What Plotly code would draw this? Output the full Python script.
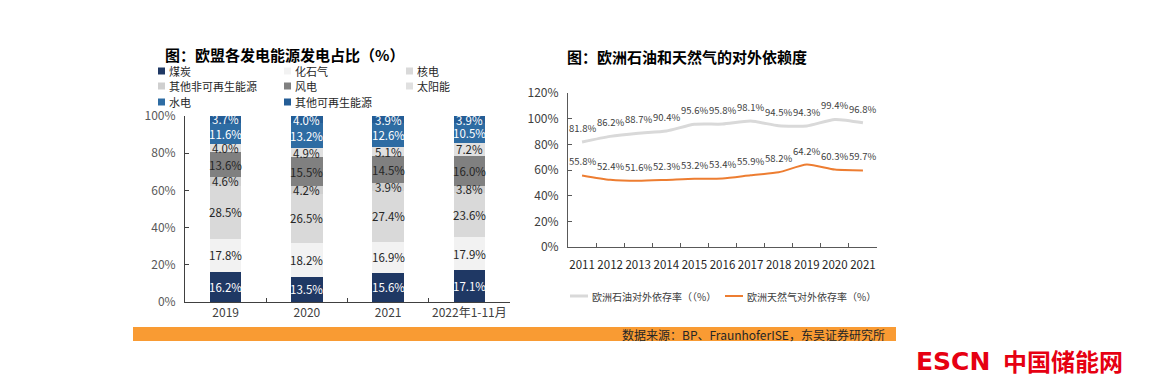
import plotly.graph_objects as go

# ---------------- data ----------------
years_bar = ["2019", "2020", "2021", "2022年1-11月"]
coal = [16.2, 13.5, 15.6, 17.1]
fossil_gas = [17.8, 18.2, 16.9, 17.9]
nuclear = [28.5, 26.5, 27.4, 23.6]
other_nonrenew = [4.6, 4.2, 3.9, 3.8]
wind = [13.6, 15.5, 14.5, 16.0]
solar = [4.0, 4.9, 5.1, 7.2]
hydro = [11.6, 13.2, 12.6, 10.5]
other_renew = [3.7, 4.0, 3.9, 3.9]

series_names = ["煤炭", "化石气", "核电", "其他非可再生能源", "风电", "太阳能", "水电", "其他可再生能源"]
series_values = [coal, fossil_gas, nuclear, other_nonrenew, wind, solar, hydro, other_renew]

years_line = ["2011", "2012", "2013", "2014", "2015", "2016", "2017", "2018", "2019", "2020", "2021"]
oil_dep = [81.8, 86.2, 88.7, 90.4, 95.6, 95.8, 98.1, 94.5, 94.3, 99.4, 96.8]
gas_dep = [55.8, 52.4, 51.6, 52.3, 53.2, 53.4, 55.9, 58.2, 64.2, 60.3, 59.7]

pct_ticks = [0, 20, 40, 60, 80, 100, 120]

# ---------------- style ----------------
W, H = 1150, 386
OFF = 8  # page body margin offsets the figure by 8px
FONT = "Noto Sans CJK SC"
bar_colors = ["#1f3864", "#f2f2f2", "#d9d9d9", "#cfcfcf", "#808080", "#e0e0e0", "#2e6ca3", "#245d96"]
label_colors = ["#ffffff", "#262626", "#262626", "#262626", "#262626", "#262626", "#ffffff", "#ffffff"]


def px(x):
    return (x - OFF) / W


def py(y):
    return 1 - (y - OFF) / H


fig = go.Figure()

# stacked bars
for name, vals, col in zip(series_names, series_values, bar_colors):
    fig.add_trace(go.Bar(
        x=years_bar, y=vals, name=name, marker=dict(color=col, line=dict(width=0)),
        width=0.39, xaxis="x", yaxis="y", showlegend=False, hoverinfo="skip",
    ))

annotations = []
# bar labels at segment midpoints (x given as category index)
for i, cat in enumerate(years_bar):
    base = 0.0
    for vals, tcol in zip(series_values, label_colors):
        v = vals[i]
        annotations.append(dict(
            x=i, y=base + v / 2, xref="x", yref="y", text=f"{v:.1f}%",
            showarrow=False, font=dict(family=FONT, size=11.5, color=tcol),
        ))
        base += v

# lines
fig.add_trace(go.Scatter(
    x=years_line, y=oil_dep, mode="lines", line=dict(color="#d9d9d9", width=3, shape="spline", smoothing=0.6),
    xaxis="x2", yaxis="y2", showlegend=False, hoverinfo="skip",
))
fig.add_trace(go.Scatter(
    x=years_line, y=gas_dep, mode="lines", line=dict(color="#ed7d31", width=2, shape="spline", smoothing=0.6),
    xaxis="x2", yaxis="y2", showlegend=False, hoverinfo="skip",
))
for ys in (oil_dep, gas_dep):
    for i, yv in enumerate(ys):
        annotations.append(dict(
            x=i, y=yv, xref="x2", yref="y2", text=f"{yv:.1f}%", showarrow=False, yshift=14,
            font=dict(family=FONT, size=9.5, color="#404040"),
        ))

# titles
annotations.append(dict(x=px(163), y=py(55), xref="paper", yref="paper", xanchor="left", yanchor="middle",
                        text="<b>图：欧盟各发电能源发电占比（%）</b>", showarrow=False,
                        font=dict(family=FONT, size=15, color="#000000")))
annotations.append(dict(x=px(565), y=py(56), xref="paper", yref="paper", xanchor="left", yanchor="middle",
                        text="<b>图：欧洲石油和天然气的对外依赖度</b>", showarrow=False,
                        font=dict(family=FONT, size=15, color="#000000")))

shapes = []
# left legend (3 columns)
col_x = [158, 284, 406]
row_y = [71, 86, 102]
for k, (name, col) in enumerate(zip(series_names, bar_colors)):
    r, c = divmod(k, 3)
    x0, yc = col_x[c], row_y[r]
    shapes.append(dict(type="rect", xref="paper", yref="paper", x0=px(x0), x1=px(x0 + 7),
                       y0=py(yc + 3.5), y1=py(yc - 3.5), fillcolor=col, line=dict(width=0)))
    annotations.append(dict(x=px(x0 + 9), y=py(yc), xref="paper", yref="paper", xanchor="left", yanchor="middle",
                            text=name, showarrow=False, font=dict(family=FONT, size=11, color="#262626")))

# right legend
shapes.append(dict(type="line", xref="paper", yref="paper", x0=px(570), x1=px(588), y0=py(296), y1=py(296),
                   line=dict(color="#d9d9d9", width=3)))
annotations.append(dict(x=px(590), y=py(296), xref="paper", yref="paper", xanchor="left", yanchor="middle",
                        text="欧洲石油对外依存率（（%）", showarrow=False, font=dict(family=FONT, size=10, color="#404040")))
shapes.append(dict(type="line", xref="paper", yref="paper", x0=px(725), x1=px(743), y0=py(296), y1=py(296),
                   line=dict(color="#ed7d31", width=2)))
annotations.append(dict(x=px(745), y=py(296), xref="paper", yref="paper", xanchor="left", yanchor="middle",
                        text="欧洲天然气对外依存率（%）", showarrow=False, font=dict(family=FONT, size=10, color="#404040")))

# source band
shapes.append(dict(type="rect", xref="paper", yref="paper", x0=px(133), x1=px(896), y0=py(341), y1=py(327),
                   fillcolor="#f99b33", line=dict(width=0), layer="below"))
annotations.append(dict(x=px(887), y=py(334), xref="paper", yref="paper", xanchor="right", yanchor="middle",
                        text="数据来源：BP、FraunhoferISE，东吴证券研究所", showarrow=False,
                        font=dict(family=FONT, size=12, color="#262626")))

# logo
annotations.append(dict(x=px(914), y=py(361), xref="paper", yref="paper", xanchor="left", yanchor="middle",
                        text="<b>ESCN</b>", showarrow=False, font=dict(family="DejaVu Sans", size=25, color="#e60012")))
annotations.append(dict(x=px(1001), y=py(360), xref="paper", yref="paper", xanchor="left", yanchor="middle",
                        text="<b>中国储能网</b>", showarrow=False, font=dict(family=FONT, size=24, color="#e60012")))

axis_common = dict(showgrid=False, zeroline=False, showline=True, ticks="inside", ticklen=4,
                   fixedrange=True, automargin=False)

fig.update_layout(
    template="none",
    width=W, height=H, margin=dict(l=0, r=0, t=0, b=0, pad=0, autoexpand=False),
    paper_bgcolor="#ffffff", plot_bgcolor="#ffffff",
    barmode="stack", showlegend=False,
    font=dict(family=FONT),
    xaxis=dict(domain=[px(185), px(510)], anchor="y", type="category", range=[-0.5, len(years_bar) - 0.5],
               linecolor="#404040", tickcolor="#404040",
               tickson="boundaries", tickangle=0, tickfont=dict(family=FONT, size=12, color="#404040"), **axis_common),
    yaxis=dict(domain=[py(302), py(116)], anchor="x", range=[0, 100], tickvals=pct_ticks[:6],
               ticktext=[f"{t}%" for t in pct_ticks[:6]], linecolor="#404040", tickcolor="#404040",
               tickfont=dict(family=FONT, size=12, color="#595959"), ticklabelstandoff=6, **axis_common),
    xaxis2=dict(domain=[px(568), px(877)], anchor="y2", type="category", range=[-0.5, len(years_line) - 0.5],
                linecolor="#595959", tickcolor="#595959", ticklabelstandoff=7,
                tickson="boundaries", tickangle=0, tickfont=dict(family=FONT, size=11.5, color="#262626"), **axis_common),
    yaxis2=dict(domain=[py(247), py(93)], anchor="x2", range=[0, 120], tickvals=pct_ticks,
                ticktext=[f"{t}%" for t in pct_ticks], linecolor="#595959", tickcolor="#595959",
                tickfont=dict(family=FONT, size=12, color="#404040"), ticklabelstandoff=6, **axis_common),
    annotations=annotations, shapes=shapes,
)

fig.write_html("out.html")
